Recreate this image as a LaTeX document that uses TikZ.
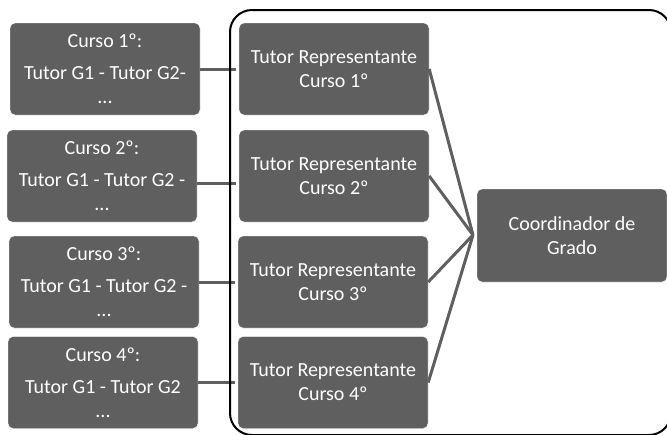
\documentclass[tikz,border=0pt]{standalone}
\usepackage{fontspec}
\setmainfont{Carlito}
\usetikzlibrary{positioning}
\definecolor{boxgray}{HTML}{5F5F5F}
\tikzset{box/.style={draw=white,fill=boxgray,rounded corners=5pt,
   minimum width=190pt,minimum height=92pt,inner sep=0pt,
   text=white,align=center,font=\fontsize{20}{24}\selectfont},
 link/.style={draw=boxgray,line width=3pt},
 frame/.style={draw=black,line width=2pt,rounded corners=22pt},
 }

\begin{document}
\begin{tikzpicture}[x=1pt,y=-1pt]
        \clip (0,0) rectangle (667,434);
        \useasboundingbox (0,0) rectangle (667,434);

        % cursos
        \node[box] (c1) at (105,69) {Curso 1º:\\[8pt]Tutor G1 - Tutor G2-\\...};
        \node[box] (c2) at (102,176) {Curso 2º:\\[8pt]Tutor G1 - Tutor G2 -\\...};
        \node[box] (c3) at (104,282) {Curso 3º:\\[8pt]Tutor G1 - Tutor G2 -\\...};
        \node[box] (c4) at (103,382.5) {Curso 4º:\\[8pt]Tutor G1 - Tutor G2\\...};

        % representantes
        \node[box] (r1) at (334,69) {Tutor Representante\\Curso 1º};
        \node[box] (r2) at (334,176) {Tutor Representante\\Curso 2º};
        \node[box] (r3) at (333,282) {Tutor Representante\\Curso 3º};
        \node[box] (r4) at (333,382.5) {Tutor Representante\\Curso 4º};

        \node[box,minimum height=93pt] (coord) at (572,235.5) {Coordinador de\\Grado};
        \coordinate (hub) at (473,235);

        \draw[link,shorten >=3pt] (c1) -- (r1);
        \draw[link,shorten >=3pt] ([yshift=-7pt]c2.east) -- ([yshift=-7pt]r2.west);
        \draw[link,shorten >=3pt] (c3) -- (r3);
        \draw[link,shorten >=3pt] (c4) -- (r4);

        \draw[link] (r1.east) -- (hub);
        \draw[link] (r2.east) -- (hub);
        \draw[link] (r3.east) -- (hub);
        \draw[link] (r4.east) -- (hub);

        \draw[frame] (230,10) rectangle (671,435);
\end{tikzpicture}
\end{document}
